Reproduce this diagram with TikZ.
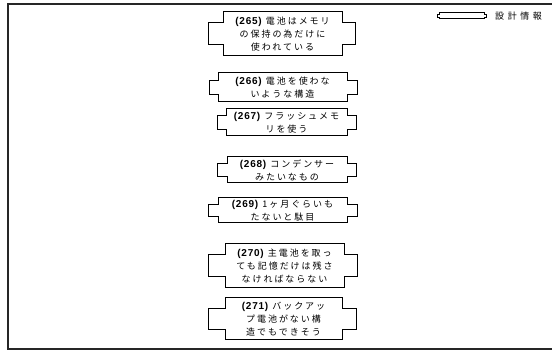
\documentclass[tikz,border=0pt]{standalone}
\usepackage{fontspec}
\newfontfamily\cjk[LetterSpace=22]{Noto Sans CJK JP}
\newfontfamily\cjkwide[LetterSpace=40]{Noto Sans CJK JP}
\newfontfamily\latb[LetterSpace=8]{Liberation Sans}
\newcommand\num[1]{{\latb\bfseries\fontsize{10}{13}\selectfont #1}}
\tikzset{
  boxline/.style={draw=black, line width=1pt},
  boxtext/.style={align=center, inner sep=0pt, font=\cjk\fontsize{9}{13}\selectfont, text=black},
  frameline/.style={draw=black!85, line width=1.2pt}
}
\newcommand\earbox[8]{%
  \pgfmathsetmacro\eya{#4+0.25*(#5-#4)}%
  \pgfmathsetmacro\eyb{#4+0.75*(#5-#4)}%
  \draw[boxline] (#2,#4) -- (#3,#4) -- (#3,\eya) -- (#7,\eya) -- (#7,\eyb) -- (#3,\eyb) -- (#3,#5) -- (#2,#5) -- (#2,\eyb) -- (#6,\eyb) -- (#6,\eya) -- (#2,\eya) -- cycle;
  \node[boxtext] (#1) at ({(#2+#3)/2},{(#4+#5)/2}) {#8};
}
\begin{document}
\begin{tikzpicture}[x=1pt,y=-1pt]
\useasboundingbox (0,0) rectangle (552,352);
\draw[frameline] (553,4) -- (8,4) -- (8,349) -- (553,349);
\earbox{b265}{223}{342}{12}{56}{208}{355}{\num{(265)} 電池はメモリ\\の保持の為だけに\\使われている}
\earbox{b266}{218}{347}{73}{102}{209}{357}{\num{(266)} 電池を使わな\\いような構造}
\earbox{b267}{226}{347}{109}{136}{217}{356}{\num{(267)} フラッシュメモ\\リを使う}
\earbox{b268}{227}{347}{157}{183}{217}{356}{\num{(268)} コンデンサー\\みたいなもの}
\earbox{b269}{218}{347}{198}{223}{208}{357}{\num{(269)} 1ヶ月ぐらいも\\たないと駄目}
\earbox{b270}{225}{344}{244}{288}{208}{357}{\num{(270)} 主電池を取っ\\ても記憶だけは残さ\\なければならない}
\earbox{b271}{225}{342}{298}{340}{208}{356}{\num{(271)} バックアッ\\プ電池がない構\\造でもできそう}
\earbox{legend}{439}{484}{13}{19}{437}{486}{}
\node[boxtext, anchor=west, font=\cjkwide\fontsize{9}{13}\selectfont] (legendtext) at (495,16) {設計情報};
\end{tikzpicture}
\end{document}
